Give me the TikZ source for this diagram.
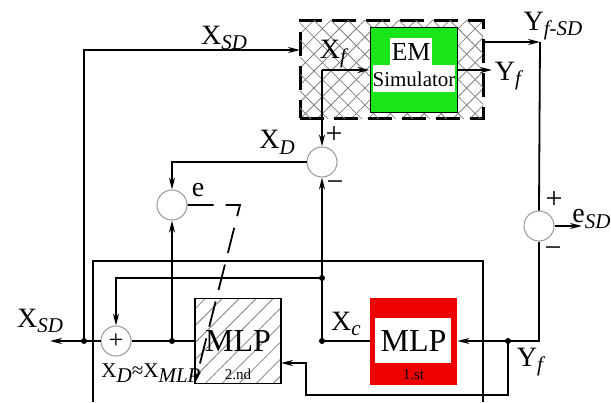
\documentclass[tikz,border=0pt]{standalone}
\usepackage{fontspec}
\setmainfont{Liberation Serif}
\usepackage{tikz}
\usetikzlibrary{positioning,patterns.meta,arrows.meta}

\definecolor{simgreen}{RGB}{25,230,25}
\definecolor{mlpred}{RGB}{236,0,0}

\newcommand{\lowidx}[1]{\raisebox{-0.45ex}{\fontsize{10.5}{11}\selectfont\itshape #1}}

\tikzset{
  wire/.style={line width=0.9pt},
  arr/.style={wire, -{Stealth[length=6pt,width=3pt]}},
  sumnode/.style={circle, draw=gray!80, line width=0.5pt, minimum size=15pt, inner sep=0pt, fill=white},
  lbl/.style={inner sep=0pt, font=\fontsize{14}{16}\selectfont},
  sign/.style={inner sep=0pt, font=\fontsize{15}{16}\selectfont},
  big/.style={font=\fontsize{16}{18}\selectfont},
  tiny/.style={inner sep=0pt, font=\fontsize{7.5}{8}\selectfont},
}

\begin{document}
\begin{tikzpicture}[x=0.5pt, y=-0.5pt]
				\useasboundingbox (0,0) rectangle (611,402);
				
				% hatched simulator frame
				\node[draw, line width=1.5pt, dash pattern=on 12pt off 5pt,
				      minimum width=91.5pt, minimum height=49pt, pattern color=gray,
				      pattern={Lines[angle=45,distance=6pt,line width=0.4pt]},
				      postaction={pattern color=gray, pattern={Lines[angle=-45,distance=6pt,line width=0.4pt]}}]
				      (hyb) at (391.5,69) {};
				
				% EM simulator
				\node[draw, line width=0.5pt, fill=simgreen, minimum width=43.5pt, minimum height=42.5pt] (em) at (413.5,69.5) {};
				\fill[white] (390,38) rectangle (432,65);
				\fill[white] (373,65) rectangle (455,92);
				\node[inner sep=0pt, font=\fontsize{13}{15}\selectfont] (emtxt) at (411,52) {EM};
				\node[inner sep=0pt, font=\fontsize{10.5}{12}\selectfont] (simtxt) at (414,79) {Simulator};
				
				% outer frame
				\draw[line width=0.8pt] (93,402) -- (93,261) -- (483,261) -- (483,402);
				
				% the two MLP blocks
				\node[draw, wire, minimum width=43pt, minimum height=42.5pt, big, pattern color=gray,
				      pattern={Lines[angle=45,distance=6pt,line width=0.4pt]}] (mlpB) at (238,341) {MLP};
				\node[tiny, above=2pt of mlpB.south] {2.nd};
				\node[fill=mlpred, minimum width=43.5pt, minimum height=43.5pt] (mlpA) at (413.5,341) {};
				\fill[white] (375,318) rectangle (451,363);
				\node[big, inner sep=0pt] at (mlpA) {MLP};
				\node[tiny, above=2.5pt of mlpA.south] {1.st};
				
				% summing points
				\node[sumnode] (sD) at (322,162) {};
				\node[sumnode] (sE) at (172,205) {};
				\node[sumnode] (sSD) at (539,226) {};
				\node[sumnode, font=\fontsize{13}{14}\selectfont] (sOut) at (116,341) {+};
				
				% points on the lines
				\coordinate (xsdIn) at (300,50);
				\coordinate (tapSD) at (84,341);
				\coordinate (xsdOut) at (50,341);
				\coordinate (tapE) at (172,341);
				\coordinate (tapC) at (322,341);
				\coordinate (tapL) at (322,278);
				\coordinate (xf) at (322,70);
				\coordinate (yfsd) at (540,42);
				\coordinate (yfOut) at (492,70);
				\coordinate (esdOut) at (582,226);
				\coordinate (tapY) at (508,341);
				\coordinate (fbk) at (306,395);
				\coordinate (mlpBin) at (281,363);
				\coordinate (eBend) at (240,205);
				\coordinate (adapt) at (195,383);
				
				% Draw lines
				\draw[arr] (tapSD) |- (xsdIn);
				\draw[arr] (sOut.west) -- (xsdOut);
				\draw[wire] (sOut.east) -- (mlpB.west);
				\draw[arr] (tapE) -- (sE.south);
				\draw[arr] (sD.west) -| (sE.north);
				\draw[arr] (xf) -- (em.west |- xf);
				\draw[arr] (xf) -- (sD.north);
				\draw[wire] (mlpA.west) -- (tapC);
				\draw[arr] (tapC) -- (sD.south);
				\draw[arr] (tapL) -| (sOut.north);
				\draw[arr] (hyb.east |- yfsd) -- (yfsd);
				\draw[wire] (yfsd) -- (sSD.north);
				\draw[arr] (em.east |- yfOut) -- (yfOut);
				\draw[arr] (sSD.east) -- (esdOut);
				\draw[arr] (sSD.south) |- (mlpA.east);
				\draw[arr] (tapY) |- (fbk) |- (mlpBin);
				\draw[arr, dash pattern=on 13pt off 6pt] (sE.east) -- (eBend) -- (adapt);
				
				% dots
				\fill (tapSD) circle (1.5pt);
				\fill (tapE) circle (1.5pt);
				\fill (tapC) circle (1.5pt);
				\fill (tapL) circle (1.5pt);
				\fill (tapY) circle (1.5pt);
				
				% Labels
				\node[lbl] at (224,38) {X\lowidx{SD}};
				\node[lbl] at (333,54) {X\lowidx{f}};
				\node[lbl] at (553,26) {Y\lowidx{f-SD}};
				\node[lbl] at (508,76) {Y\lowidx{f}};
				\node[lbl] at (277,142) {X\lowidx{D}};
				\node[sign] at (334,135) {+};
				\node[sign] at (335,186) {−};
				\node[lbl] at (198,190) {e};
				\node[sign] at (554,200) {+};
				\node[sign] at (553,252) {−};
				\node[lbl, anchor=west] at (572,219) {e\lowidx{SD}};
				\node[lbl] at (40,321) {X\lowidx{SD}};
				\node[inner sep=0pt, font=\fontsize{10.5}{12}\selectfont] at (151,373) {X\lowidx{D}≈X\lowidx{MLP}};
				\node[lbl] at (346,324) {X\lowidx{c}};
				\node[lbl] at (530,362) {Y\lowidx{f}};
			\end{tikzpicture}
\end{document}
